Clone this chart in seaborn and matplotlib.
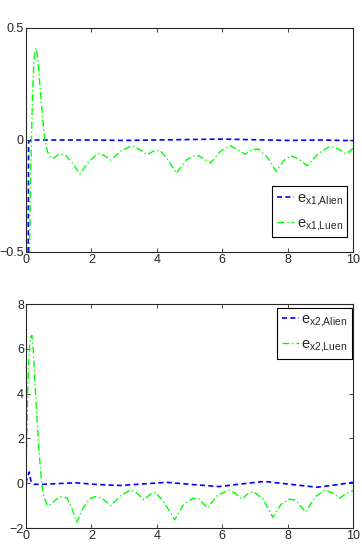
import matplotlib
matplotlib.use('Agg')
import matplotlib.pyplot as plt
import seaborn as sns

# top panel: e_x1
t_x1_alien = [0, 0.08, 0.15, 1, 2, 3, 4, 5, 6, 7, 8, 9, 10]
e_x1_alien = [-3.0, -0.01, 0.0, 0.0, 0.0, -0.002, 0.0, 0.002, 0.004, 0.001, -0.002, 0.0, -0.003]

t_x1_luen = [0, 0.1, 0.15, 0.2, 0.25, 0.3, 0.35, 0.45, 0.55, 0.65, 0.75, 0.85, 1.0, 1.2,
             1.4, 1.65, 1.9, 2.2, 2.4, 2.6, 2.9, 3.25, 3.5, 3.7, 3.9, 4.1, 4.35, 4.6,
             4.9, 5.2, 5.4, 5.65, 5.95, 6.25, 6.5, 6.7, 6.9, 7.1, 7.4, 7.65, 7.9, 8.1,
             8.35, 8.6, 8.95, 9.3, 9.55, 9.8, 10]
e_x1_luen = [-1.5, -0.6, -0.1, 0.2, 0.37, 0.41, 0.38, 0.2, 0.03, -0.05, -0.08, -0.08, -0.065, -0.065,
             -0.1, -0.152, -0.1, -0.06, -0.07, -0.09, -0.05, -0.025, -0.045, -0.066, -0.05, -0.046, -0.09, -0.148,
             -0.09, -0.066, -0.08, -0.103, -0.05, -0.025, -0.045, -0.063, -0.045, -0.04, -0.08, -0.14, -0.09, -0.07,
             -0.085, -0.115, -0.06, -0.028, -0.04, -0.063, -0.037]

# bottom panel: e_x2
t_x2_alien = [0, 0.05, 0.1, 0.15, 0.25, 0.5, 1.5, 2.2, 2.9, 3.6, 4.3, 5.1, 5.9, 6.6, 7.3, 8.1, 8.9, 9.5, 10]
e_x2_alien = [0, 0.3, 0.5, 0.1, -0.05, -0.05, 0.02, -0.06, -0.1, -0.03, 0.04, -0.06, -0.15, -0.03, 0.08, -0.05, -0.18, -0.07, 0.04]

t_x2_luen = [0, 0.05, 0.1, 0.15, 0.18, 0.22, 0.3, 0.4, 0.48, 0.55, 0.65, 0.75, 0.9, 1.05, 1.25, 1.4,
             1.55, 1.75, 1.95, 2.1, 2.3, 2.6, 2.9, 3.2, 3.4, 3.6, 3.8, 3.95, 4.2, 4.55, 4.8, 5.1,
             5.3, 5.55, 5.85, 6.2, 6.4, 6.6, 6.8, 6.95, 7.25, 7.55, 7.8, 8.05, 8.25, 8.55, 8.85,
             9.15, 9.4, 9.6, 9.8, 10]
e_x2_luen = [0.3, 4.0, 6.0, 6.55, 6.6, 6.0, 3.8, 1.4, 0.0, -0.6, -1.0, -0.95, -0.75, -0.6, -0.65, -1.1,
             -1.74, -1.1, -0.7, -0.6, -0.65, -1.0, -0.55, -0.3, -0.45, -0.74, -0.5, -0.4, -0.8, -1.63, -1.0, -0.67,
             -0.7, -1.11, -0.55, -0.3, -0.45, -0.71, -0.45, -0.37, -0.7, -1.52, -0.95, -0.71, -0.75, -1.29, -0.6,
             -0.3, -0.45, -0.67, -0.45, -0.33]

sns.set_style('ticks')
plt.rcParams['font.family'] = ['Liberation Sans', 'DejaVu Sans']
plt.rcParams['mathtext.fontset'] = 'custom'
plt.rcParams['mathtext.rm'] = 'Liberation Sans'
plt.rcParams['mathtext.it'] = 'Liberation Sans'

fig = plt.figure(figsize=(3.62, 5.51), dpi=100)
ax1 = fig.add_axes([0.0718, 0.5427, 0.903, 0.4065])
ax2 = fig.add_axes([0.0718, 0.0417, 0.903, 0.4065])

blue = (0, 0, 1)
green = (0, 1, 0)
leg_kw = dict(fontsize=10.5, handlelength=1.2, handletextpad=0.15, labelspacing=0.55,
              borderpad=0.3, borderaxespad=0, fancybox=False)

#top plot
sns.lineplot(x=t_x1_alien, y=e_x1_alien, ax=ax1, color=blue, linestyle=(0, (3, 2)), lw=1.2,
             label=r'e$_{\mathrm{x1{,}Alien}}$', sort=False, estimator=None)
sns.lineplot(x=t_x1_luen, y=e_x1_luen, ax=ax1, color=green, linestyle=(0, (5, 2, 1, 2)), lw=1.0,
             label=r'e$_{\mathrm{x1{,}Luen}}$', sort=False, estimator=None)
ax1.set_xlim(0, 10)
ax1.set_ylim(-0.5, 0.5)
ax1.set_yticks([-0.5, 0, 0.5])
ax1.set_yticklabels(['−0.5', '0', '0.5'])
ax1.legend(loc='lower right', bbox_to_anchor=(0.982, 0.067), **leg_kw)

#bottom plot
sns.lineplot(x=t_x2_alien, y=e_x2_alien, ax=ax2, color=blue, linestyle=(0, (3, 2)), lw=1.2,
             label=r'e$_{\mathrm{x2{,}Alien}}$', sort=False, estimator=None)
sns.lineplot(x=t_x2_luen, y=e_x2_luen, ax=ax2, color=green, linestyle=(0, (5, 2, 1, 2)), lw=1.0,
             label=r'e$_{\mathrm{x2{,}Luen}}$', sort=False, estimator=None)
ax2.set_xlim(0, 10)
ax2.set_ylim(-2, 8)
ax2.set_yticks([-2, 0, 2, 4, 6, 8])
ax2.set_yticklabels(['−2', '0', '2', '4', '6', '8'])
ax2.legend(loc='upper right', bbox_to_anchor=(0.997, 0.982), **leg_kw)

for ax in (ax1, ax2):
    ax.set_xticks([0, 2, 4, 6, 8, 10])
    ax.tick_params(direction='in', top=True, right=True, labelsize=9, length=3, width=0.6, pad=1.5)
    for s in ax.spines.values():
        s.set_linewidth(0.8)
        s.set_visible(True)
    frame = ax.get_legend().get_frame()
    frame.set_edgecolor('black')
    frame.set_linewidth(0.8)
    frame.set_alpha(1)

fig.savefig('out.png', dpi=100)
